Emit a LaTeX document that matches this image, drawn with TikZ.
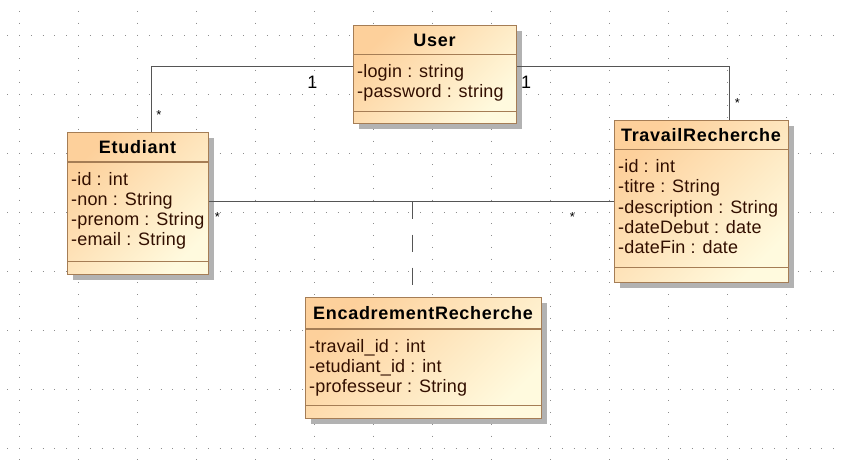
\documentclass[tikz,border=0pt]{standalone}
\usepackage{fontspec}
\setmainfont{Liberation Sans}
\newfontfamily\attfont[LetterSpace=1]{Liberation Sans}
\newfontfamily\ttlfont[LetterSpace=4]{Liberation Sans}
\usetikzlibrary{shadows}
\definecolor{peach}{RGB}{253,208,155}
\definecolor{cream}{RGB}{255,250,222}
\definecolor{brd}{RGB}{165,125,85}
\definecolor{txt}{RGB}{50,15,0}
\definecolor{lnk}{RGB}{85,85,85}
\definecolor{dotc}{RGB}{140,140,140}

\begin{document}
\begin{tikzpicture}[x=1pt,y=-1pt,
  cls/.style={draw=brd,line width=1.2pt,anchor=north west,inner sep=0pt,
    top color=peach,bottom color=cream,shading angle=45,
    drop shadow={shadow xshift=5pt,shadow yshift=-5pt,fill=black!30,opacity=1}},
  divider/.style={draw=brd,line width=1.2pt},
  ttl/.style={font=\ttlfont\fontsize{18}{20}\selectfont\bfseries,inner sep=0pt,text height=13pt,text depth=0pt},
  att/.style={font=\attfont\fontsize{18}{20.25}\selectfont,text=txt,align=left,anchor=north west,inner sep=0pt},
  one/.style={font=\fontsize{18}{20}\selectfont,inner sep=0pt},
  many/.style={font=\fontsize{13}{14}\selectfont,inner sep=0pt},
  assoc/.style={draw=lnk,line width=1.3pt},
  griddot/.style={draw=dotc,line width=1pt,dash pattern=on 1pt off 10.8pt}]
\useasboundingbox (0,0) rectangle (841,463);
\fill[white] (0,0) rectangle (841,463);
% background grid
\foreach \i in {0,...,13}
  \draw[griddot] (19.5+59*\i,-0.9) -- (19.5+59*\i,464);
\foreach \j in {0,...,7}
  \draw[griddot] (-4.6,35+59*\j) -- (842,35+59*\j);

% classes
\node[cls,minimum width=163pt,minimum height=98pt] (user) at (353,25) {};
\draw[divider] ([yshift=-29.5pt]user.north west) -- ([yshift=-29.5pt]user.north east);
\draw[divider] ([yshift=13pt]user.south west) -- ([yshift=13pt]user.south east);
\node[ttl] (usert) at (434.5,39.75) {User};
\node[att] (usera) at (357,63.3) {\strut-login : string\\-password : string};

\node[cls,minimum width=141pt,minimum height=142pt] (etud) at (67,132) {};
\draw[divider] ([yshift=-30pt]etud.north west) -- ([yshift=-30pt]etud.north east);
\draw[divider] ([yshift=14pt]etud.south west) -- ([yshift=14pt]etud.south east);
\node[ttl] (etudt) at (137.5,147) {Etudiant};
\node[att] (etuda) at (71,170.8) {\strut-id : int\\-non : String\\-prenom : String\\-email : String};

\node[cls,minimum width=174pt,minimum height=162pt] (trav) at (614,120) {};
\draw[divider] ([yshift=-29.5pt]trav.north west) -- ([yshift=-29.5pt]trav.north east);
\draw[divider] ([yshift=16pt]trav.south west) -- ([yshift=16pt]trav.south east);
\node[ttl] (travt) at (701,134.75) {TravailRecherche};
\node[att] (trava) at (618,158.3) {\strut-id : int\\-titre : String\\-description : String\\-dateDebut : date\\-dateFin : date};

\node[cls,minimum width=236pt,minimum height=121pt] (enc) at (305,297) {};
\draw[divider] ([yshift=-32pt]enc.north west) -- ([yshift=-32pt]enc.north east);
\draw[divider] ([yshift=14pt]enc.south west) -- ([yshift=14pt]enc.south east);
\node[ttl] (enct) at (423,313) {EncadrementRecherche};
\node[att] (enca) at (309,337.8) {\strut-travail\_id : int\\-etudiant\_id : int\\-professeur : String};

% associations
\draw[assoc] ([xshift=13.5pt]etud.north) |- ([yshift=8pt]user.west);
\draw[assoc] ([yshift=8pt]user.east) -| ([xshift=28pt]trav.north);
\draw[assoc] (etud.east |- trav.west) -- (trav.west);
\draw[assoc,dash pattern=on 17pt off 16pt] ([xshift=-11pt]enc.north |- trav.west) -- ([xshift=-11pt]enc.north);

% multiplicities
\node[many] (m1) at (159,114.8) {*};
\node[one] (m2) at (312.5,82.5) {1};
\node[one] (m3) at (526,82.5) {1};
\node[many] (m4) at (737.5,103.5) {*};
\node[many] (m5) at (217.5,217.1) {*};
\node[many] (m6) at (572.5,217.1) {*};
\end{tikzpicture}
\end{document}
